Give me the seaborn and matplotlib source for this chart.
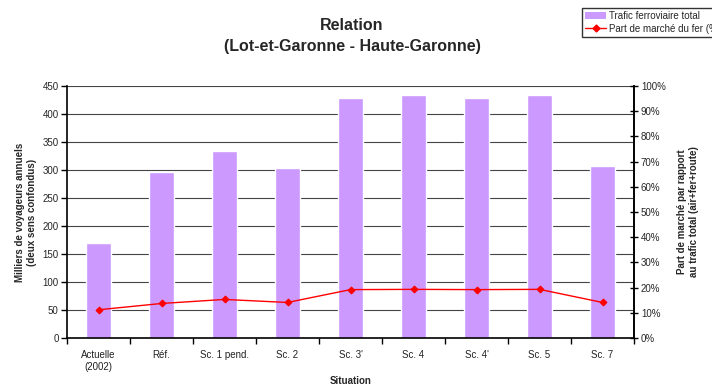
import numpy as np
import pandas as pd
import matplotlib
matplotlib.use("Agg")
import matplotlib.pyplot as plt
from matplotlib.patches import Patch
from matplotlib.lines import Line2D
import seaborn as sns

# Scenario data
situations = ["Actuelle\n(2002)", "Réf.", "Sc. 1 pend.", "Sc. 2", "Sc. 3'",
              "Sc. 4", "Sc. 4'", "Sc. 5", "Sc. 7"]
trafic = [170, 296, 334, 304, 429, 434, 429, 434, 307]        # milliers de voyageurs
part_marche = [11.2, 13.7, 15.3, 14.1, 19.2, 19.3, 19.2, 19.3, 14.1]  # %
left_ticks = list(range(0, 451, 50))
right_ticks = list(range(0, 101, 10))

sns.set_theme(style="white")
plt.rcParams["font.family"] = ["Liberation Sans", "DejaVu Sans"]

fig = plt.figure(figsize=(7.12, 3.9), dpi=100)
ax = fig.add_axes([67 / 712, 1 - 338 / 390, (634 - 67) / 712, (338 - 86) / 390])

df = pd.DataFrame({"Situation": situations, "Trafic": trafic})
sns.barplot(data=df, x="Situation", y="Trafic", color="#CC99FF", saturation=1,
            width=0.41, ax=ax, zorder=2)

ax.set_xlim(-0.5, len(situations) - 0.5)
ax.set_ylim(0, 450)
ax.set_yticks(left_ticks)
ax.set_yticklabels([str(t) for t in left_ticks], fontsize=7)
for y in left_ticks[1:]:
    ax.axhline(y, color="#444444", lw=0.8, zorder=1)

# category labels centred, tick marks on category boundaries
ax.set_xticks(range(len(situations)))
ax.set_xticklabels(situations, fontsize=7, color="#222222")
ax.set_xticks(np.arange(-0.5, len(situations)), minor=True)
ax.tick_params(axis="x", which="major", length=0, pad=9)
ax.tick_params(axis="x", which="minor", length=4, width=1, color="black", direction="out", bottom=True)
ax.tick_params(axis="y", length=4, width=1, color="black", direction="out", left=True, pad=2)

for side in ["left", "bottom", "right"]:
    ax.spines[side].set_color("black")
    ax.spines[side].set_linewidth(1.2)
ax.spines["top"].set_visible(False)

ax.set_xlabel("Situation", fontsize=7, fontweight="bold", labelpad=3)
ax.set_ylabel("Milliers de voyageurs annuels\n(deux sens confondus)", fontsize=7,
              fontweight="bold", labelpad=4)

ax2 = ax.twinx()
sns.lineplot(x=np.arange(len(situations)), y=part_marche, ax=ax2, color="#FF0000",
             lw=1, marker="D", markersize=3.5, markeredgecolor="#FF0000", zorder=3)
ax2.set_ylim(0, 100)
ax2.set_yticks(right_ticks)
ax2.set_yticklabels([f"{t}%" for t in right_ticks], fontsize=7)
ax2.tick_params(axis="y", length=6, width=1, color="black", direction="inout", right=True, pad=2)
for side in ["left", "bottom", "top"]:
    ax2.spines[side].set_visible(False)
ax2.spines["right"].set_color("black")
ax2.spines["right"].set_linewidth(1.2)
ax2.set_ylabel("Part de marché par rapport\nau trafic total (air+fer+route)", fontsize=7,
               fontweight="bold", labelpad=8)

fig.text(352 / 712, 1 - 25 / 390, "Relation", ha="center", va="center",
         fontsize=11.5, fontweight="bold")
fig.text(352 / 712, 1 - 46 / 390, "(Lot-et-Garonne - Haute-Garonne)", ha="center",
         va="center", fontsize=11.5, fontweight="bold")

handles = [Patch(facecolor="#CC99FF", edgecolor="none", label="Trafic ferroviaire total"),
           Line2D([0], [0], color="#FF0000", lw=1, marker="D", markersize=3.5,
                  label="Part de marché du fer (%)")]
fig.legend(handles=handles, loc="upper left", bbox_to_anchor=(582 / 712, 1 - 8 / 390),
           fontsize=7, frameon=True, fancybox=False, edgecolor="black",
           borderpad=0.3, labelspacing=0.3, handlelength=2.2, handletextpad=0.3,
           borderaxespad=0)

fig.savefig("out.png", dpi=100)
